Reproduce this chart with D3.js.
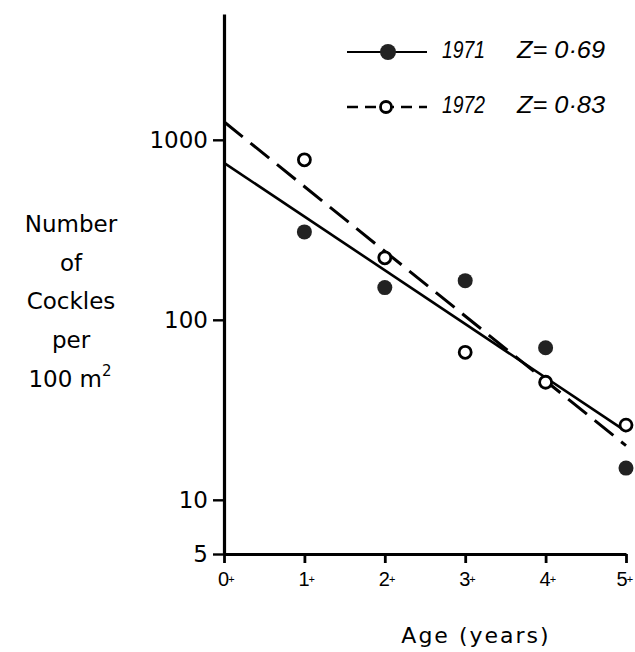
<!DOCTYPE html>
<html>
<head>
<meta charset="utf-8">
<script src="https://cdn.jsdelivr.net/npm/d3@7"></script>
<style>
  body { margin: 0; background: #fff; }
  svg { display: block; font-family: "DejaVu Sans", sans-serif; }
</style>
</head>
<body>
<svg id="chart" width="635" height="652"></svg>
<script>
// values
var ageTicks = [0, 1, 2, 3, 4, 5];
var ages = [1, 2, 3, 4, 5];
var n1971 = [308, 151, 165, 70, 15];
var n1972 = [774, 221, 66, 45, 26];
var fitAges = [0, 5];
var fit1971 = [745, 24];
var fit1972 = [1260, 20];
var yTicks = [5, 10, 100, 1000];
var yTitle = ["Number", "of", "Cockles", "per"];

var svg = d3.select("#chart");

var x = d3.scaleLinear().domain([0, 5]).range([224, 626]);
var y = d3.scaleLog().domain([5, 5000]).range([554, 14]);

// y axis
var yAxis = svg.append("g")
  .attr("transform", "translate(224,0)")
  .call(d3.axisLeft(y).tickValues(yTicks).tickFormat(d3.format("d")).tickSize(11).tickSizeOuter(0).tickPadding(5));
yAxis.select(".domain").attr("stroke-width", 3.2);
yAxis.selectAll(".tick line").attr("stroke-width", 2.4);
yAxis.selectAll(".tick text")
  .attr("font-size", 23).attr("font-family", "DejaVu Sans").attr("fill", "#000");

// x axis
var xAxis = svg.append("g")
  .attr("transform", "translate(0,554)")
  .call(d3.axisBottom(x).tickValues(ageTicks).tickFormat("").tickSize(9).tickSizeOuter(0));
xAxis.select(".domain").attr("stroke-width", 2.8);
xAxis.selectAll(".tick line").attr("stroke-width", 2.8);
var xl = xAxis.selectAll(".tick").append("text")
  .attr("y", 32)
  .attr("x", function(d) { return d === 5 ? -10 : -6.5; })
  .attr("text-anchor", "start")
  .style("font-size", "20px")
  .attr("fill", "#000")
  .text(function(d) { return d; });
xl.append("tspan")
  .style("font-size", "11px")
  .attr("dx", -1)
  .attr("dy", -3)
  .text("+");

// axis titles
svg.append("text")
  .attr("x", 476).attr("y", 643)
  .attr("text-anchor", "middle")
  .attr("font-size", 22)
  .attr("letter-spacing", 2)
  .text("Age (years)");

var yt = svg.append("g").attr("font-size", 23).attr("text-anchor", "middle");
yt.selectAll("text.l").data(yTitle).enter().append("text")
  .attr("class", "l")
  .attr("x", 71)
  .attr("y", function(d, i) { return 232 + i * 38.7; })
  .text(function(d) { return d; });
var last = yt.append("text").attr("x", 70).attr("y", 232 + 4 * 38.7);
last.append("tspan").text("100 m");
last.append("tspan").attr("font-size", 15).attr("dy", -11).text("2");

// fitted lines
var line = d3.line()
  .x(function(d) { return x(d[0]); })
  .y(function(d) { return y(d[1]); });

svg.append("path")
  .datum(d3.zip(fitAges, fit1971))
  .attr("d", line)
  .attr("fill", "none").attr("stroke", "#000").attr("stroke-width", 2.6);

svg.append("path")
  .datum(d3.zip(fitAges, fit1972))
  .attr("d", line)
  .attr("fill", "none").attr("stroke", "#000").attr("stroke-width", 3)
  .attr("stroke-dasharray", "24,10");

// points
svg.selectAll("circle.y71").data(d3.zip(ages, n1971)).enter().append("circle")
  .attr("class", "y71")
  .attr("cx", function(d) { return x(d[0]); })
  .attr("cy", function(d) { return y(d[1]); })
  .attr("r", 7.5)
  .attr("fill", "#222");

svg.selectAll("circle.y72").data(d3.zip(ages, n1972)).enter().append("circle")
  .attr("class", "y72")
  .attr("cx", function(d) { return x(d[0]); })
  .attr("cy", function(d) { return y(d[1]); })
  .attr("r", 6)
  .attr("fill", "#fff")
  .attr("stroke", "#000")
  .attr("stroke-width", 2.8);

// legend
var legend = svg.append("g");
legend.append("line")
  .attr("x1", 347).attr("x2", 427).attr("y1", 52).attr("y2", 52)
  .attr("stroke", "#000").attr("stroke-width", 1.8);
legend.append("circle").attr("cx", 388).attr("cy", 52).attr("r", 8).attr("fill", "#222");
legend.append("line")
  .attr("x1", 347).attr("x2", 427).attr("y1", 107).attr("y2", 107)
  .attr("stroke", "#000").attr("stroke-width", 2.4)
  .attr("stroke-dasharray", "11,7");
legend.append("circle").attr("cx", 386).attr("cy", 107).attr("r", 5.5)
  .attr("fill", "#fff").attr("stroke", "#000").attr("stroke-width", 2.8);

var legText = [["1971", "Z= 0·69", 58], ["1972", "Z= 0·83", 113]];
legend.selectAll("text.yr").data(legText).enter().append("text")
  .attr("class", "yr")
  .attr("x", 442).attr("y", function(d) { return d[2]; })
  .attr("font-family", "'Liberation Sans', sans-serif")
  .attr("font-style", "italic").attr("font-size", 23)
  .attr("textLength", 43).attr("lengthAdjust", "spacingAndGlyphs")
  .text(function(d) { return d[0]; });
legend.selectAll("text.z").data(legText).enter().append("text")
  .attr("class", "z")
  .attr("x", 517).attr("y", function(d) { return d[2]; })
  .attr("font-family", "'Liberation Sans', sans-serif")
  .attr("font-style", "italic").attr("font-size", 23)
  .attr("textLength", 88).attr("lengthAdjust", "spacingAndGlyphs")
  .text(function(d) { return d[1]; });
</script>
</body>
</html>
